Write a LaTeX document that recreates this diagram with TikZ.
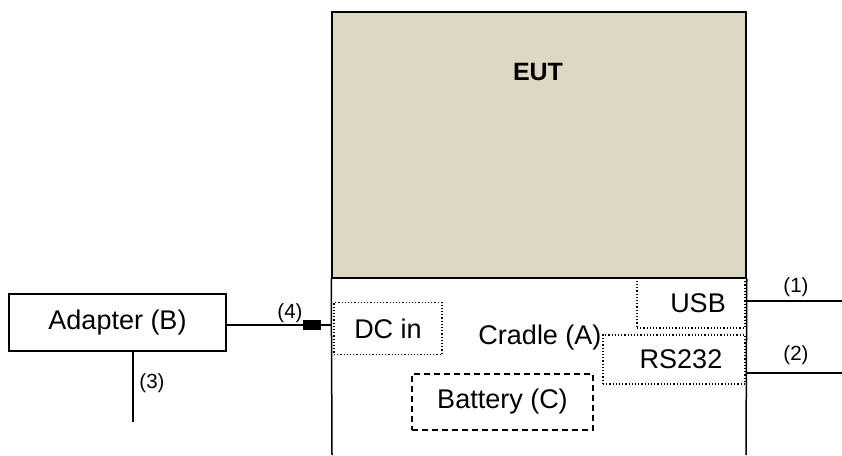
\documentclass[tikz,border=0pt]{standalone}
\usepackage{fontspec}
\setmainfont{Liberation Sans}
\usepackage{tikz}
\usetikzlibrary{positioning, calc}
\definecolor{euttan}{RGB}{221,216,195}
\tikzset{
  body/.style    = {rectangle, draw=black, line width=1.5pt, fill=euttan,
                    minimum width=414pt, minimum height=266pt, inner sep=0pt},
  unitbox/.style = {rectangle, draw=black, line width=1.2pt, inner sep=0pt,
                    font=\fontsize{27}{30}\selectfont},
  portbox/.style = {rectangle, draw=black, dotted, line width=1.2pt, inner sep=0pt,
                    font=\fontsize{27}{30}\selectfont},
  battbox/.style = {rectangle, draw=black, line width=1.5pt,
                    dash pattern=on 6pt off 4pt, inner sep=0pt,
                    font=\fontsize{27}{30}\selectfont},
  txt/.style     = {inner sep=0pt, font=\fontsize{27}{30}\selectfont},
  num/.style     = {inner sep=0pt, font=\fontsize{20.5}{23}\selectfont},
  cable/.style   = {line width=1.2pt, draw=black},
  wall/.style    = {line width=1.5pt, draw=black}
}
\begin{document}
\begin{tikzpicture}[x=1pt, y=-1pt]
  \useasboundingbox (0,0) rectangle (842,455);
  % EUT and cradle
  \node[body] (eut) at (539,145) {};
  \node[txt, font=\bfseries\fontsize{25}{28}\selectfont] (eutlbl) at (538,72) {EUT};
  \coordinate (cl) at (332,455);
  \coordinate (cr) at (746,455);
  \draw[wall] (eut.south west) -- (cl);
  \draw[wall] (eut.south east) -- (cr);
  \node[txt] (cradle) at (540,338) {Cradle (A)};
  \node[portbox, minimum width=108pt, minimum height=52pt] (dcin) at (388,328.5) {DC in};
  \node[portbox, minimum width=108pt, minimum height=50pt] (usb) at (691,303) {\hspace*{14pt}USB};
  \node[portbox, minimum width=142pt, minimum height=49pt] (rs232) at (674,359.5) {\hspace*{14pt}RS232};
  \node[battbox, minimum width=181pt, minimum height=56pt] (batt) at (502.5,402) {Battery (C)};
  % adapter
  \node[unitbox, minimum width=217pt, minimum height=57pt] (adapter) at (117.5,322.5) {Adapter (B)};
  \node[rectangle, fill=black, minimum width=18pt, minimum height=10pt, inner sep=0pt] (plug) at (312,325) {};
  % cables
  \coordinate (c1) at (842,301);
  \coordinate (c2) at (842,373);
  \coordinate (c3) at (133,422);
  \draw[cable] (adapter.east |- plug.west) -- (plug.west);
  \draw[cable] (plug.east) -- (plug.east -| cl);
  \draw[cable] (adapter.south -| c3) -- (c3);
  \draw[cable] (usb.east |- c1) -- (c1);
  \draw[cable] (rs232.east |- c2) -- (c2);
  \node[num] (n1) at (796,287) {(1)};
  \node[num] (n2) at (796,355) {(2)};
  \node[num] (n3) at (152,383) {(3)};
  \node[num] (n4) at (290,313) {(4)};
\end{tikzpicture}
\end{document}
